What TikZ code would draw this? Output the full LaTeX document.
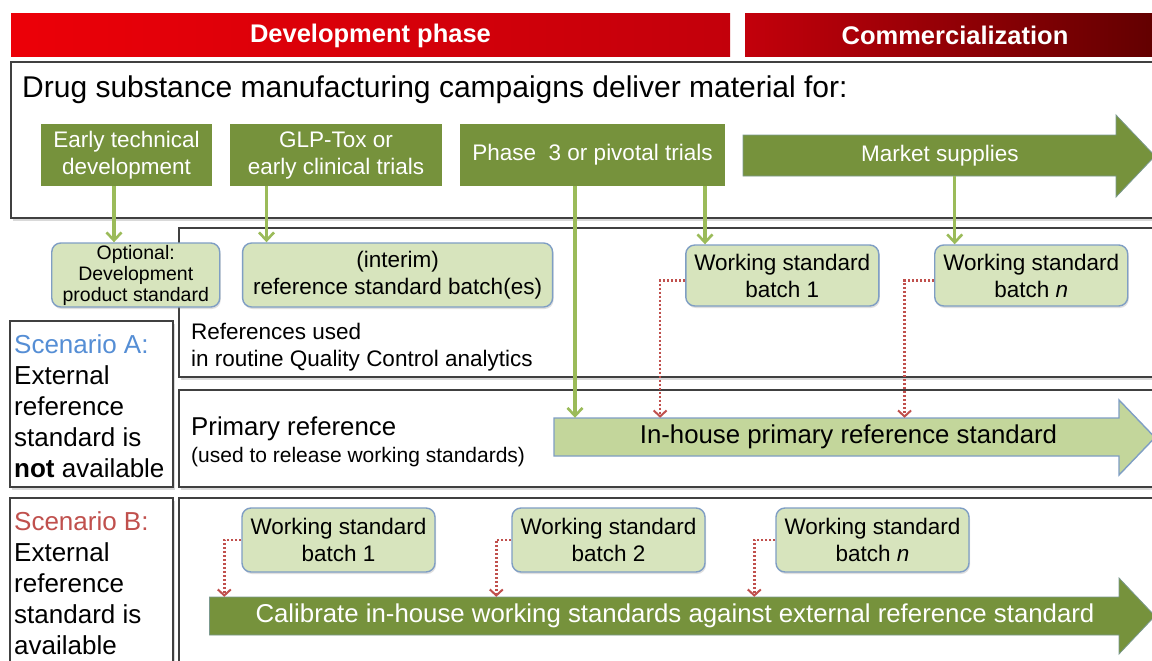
\documentclass[tikz,border=0pt]{standalone}
\usepackage{fontspec}
\setmainfont{Liberation Sans}
\usetikzlibrary{arrows.meta,shadows}

\definecolor{stagegreen}{HTML}{76923C}
\definecolor{palegreen}{HTML}{D7E4BD}
\definecolor{shaftgreen}{HTML}{C3D69B}
\definecolor{leafgreen}{HTML}{9BBB59}
\definecolor{boxedge}{HTML}{7F9EC4}
\definecolor{dotred}{HTML}{C0504D}
\definecolor{framegray}{HTML}{404040}
\definecolor{scenblue}{HTML}{558ED5}
\definecolor{scenred}{HTML}{C0504D}
\definecolor{devred}{HTML}{EC0008}
\definecolor{midred}{HTML}{C3000B}
\definecolor{darkred}{HTML}{600000}

\begin{document}
\begin{tikzpicture}[
            x = 1pt, y = -1pt,
            every node/.style={align=center, inner sep=0pt, font=\fontsize{22.5}{27}\selectfont},
            banner/.style={text=white, minimum height=43pt, font=\fontsize{25.5}{30}\selectfont\bfseries},
            panel/.style={draw=framegray, line width=1.4pt, fill=white, drop shadow={shadow xshift=1.5pt, shadow yshift=-2.5pt, opacity=0.3}},
            stage/.style={fill=stagegreen, text=white, minimum height=62pt},
            refbox/.style={draw=boxedge, fill=palegreen, line width=1.4pt, rounded corners=9pt, drop shadow={shadow xshift=1pt, shadow yshift=-2pt, opacity=0.25}},
            bigtext/.style={font=\fontsize{25.8}{31}\selectfont},
            feed/.style={draw=leafgreen, line width=3.4pt, -{Straight Barb[length=8pt, width=15pt, line width=2.6pt]}},
            release/.style={draw=dotred, line width=2.6pt, dash pattern=on 2.2pt off 1.8pt, -{Straight Barb[length=6pt, width=13pt, line width=2pt]}},
            ]

        \useasboundingbox (0,0) rectangle (1152,661);
        \clip (0,0) rectangle (1152,661);

        \node[banner, left color=devred, right color=midred, minimum width=719pt] (dev) at (370.5,35.5) {Development phase};
        \node[banner, left color=midred, right color=darkred, minimum width=420pt] (comm) at (955,35.5) {Commercialization};

        \draw[panel] (11,62) rectangle (1175,218);
        \draw[panel] (179,228) rectangle (1175,377);
        \draw[panel] (179,390) rectangle (1175,487);
        \draw[panel] (10,321) rectangle (173,487);
        \draw[panel] (179,498) rectangle (1175,675);
        \draw[panel] (10,498) rectangle (173,675);

        \node[anchor=base west, font=\fontsize{30}{36}\selectfont] (title) at (22,97) {Drug substance manufacturing campaigns deliver material for:};

        \node[stage, minimum width=171pt] (early) at (126.5,155) {Early technical\\development};
        \node[stage, minimum width=212pt] (glp) at (336,155) {GLP-Tox or\\early clinical trials};
        \node[stage, minimum width=265pt] (phase) at (592.5,155) {Phase\ \ 3 or pivotal trials};
        \filldraw[fill=stagegreen, draw=boxedge!60!stagegreen, line width=0.8pt] (743,135) -- (1116,135) -- (1116,115) -- (1155,156) -- (1116,197) -- (1116,176) -- (743,176) -- cycle;
        \node[text=white, minimum height=41pt] (market) at (940,155.5) {Market supplies};

        \node[refbox, minimum width=168pt, minimum height=64pt, font=\fontsize{19.5}{21}\selectfont] (optional) at (135.75,275) {Optional:\\Development\\product standard};
        \node[refbox, minimum width=310pt, minimum height=64pt] (interim) at (397.6,275) {(interim)\\reference standard batch(es)};
        \node[refbox, minimum width=193pt, minimum height=61pt] (wsA1) at (782.3,275.5) {Working standard\\batch 1};
        \node[refbox, minimum width=193pt, minimum height=61pt] (wsAn) at (1031.25,275.5) {Working standard\\batch \textit{n}};

        \node[anchor=west, align=left] (routine) at (191,347) {References used\\in routine Quality Control analytics};

        \node[anchor=west, align=left, font=\fontsize{26}{31}\selectfont] (scenA) at (14,406) {\textcolor{scenblue}{Scenario A:}\\External\\reference\\standard is\\\textbf{not} available};
        \node[anchor=base west, bigtext] (primary) at (191,435) {Primary reference};
        \node[anchor=base west, font=\fontsize{21}{25}\selectfont] (usage) at (191,462) {(used to release working standards)};

        \filldraw[fill=shaftgreen, draw=boxedge, line width=1.4pt] (554,418) -- (1119,418) -- (1119,400) -- (1155,437.5) -- (1119,475) -- (1119,456) -- (554,456) -- cycle;
        \node[bigtext, minimum height=38pt] (inhouse) at (848.5,437) {In-house primary reference standard};

        \node[anchor=west, align=left, font=\fontsize{26}{31}\selectfont] (scenB) at (14,583) {\textcolor{scenred}{Scenario B:}\\External\\reference\\standard is\\available};
        \node[refbox, minimum width=193pt, minimum height=64pt] (wsB1) at (338.5,540) {Working standard\\batch 1};
        \node[refbox, minimum width=193pt, minimum height=64pt] (wsB2) at (608.5,540) {Working standard\\batch 2};
        \node[refbox, minimum width=193pt, minimum height=64pt] (wsBn) at (872.5,540) {Working standard\\batch \textit{n}};

        \filldraw[fill=stagegreen, draw=boxedge!60!stagegreen, line width=0.8pt] (209.5,597) -- (1119,597) -- (1119,578) -- (1155,616) -- (1119,654) -- (1119,635) -- (209.5,635) -- cycle;
        \node[bigtext, text=white, minimum height=38pt] (calibrate) at (675,616) {Calibrate in-house working standards against external reference standard};

        \draw[feed] ([xshift=-12.5pt]early.south) -- ([xshift=-12.5pt]early.south |- optional.north);
        \draw[feed] ([xshift=-69.5pt]glp.south) -- ([xshift=-69.5pt]glp.south |- interim.north);
        \draw[feed] ([xshift=-17.5pt]phase.south) -- ([xshift=-17.5pt]phase.south |- inhouse.north);
        \draw[feed] ([xshift=112.5pt]phase.south) -- ([xshift=112.5pt]phase.south |- wsA1.north);
        \draw[feed] ([xshift=14.7pt]market.south) -- ([xshift=14.7pt]market.south |- wsAn.north);

        \draw[release] ([yshift=-5pt]wsA1.west) -| ([xshift=-25pt]wsA1.west |- inhouse.north);
        \draw[release] ([yshift=-5pt]wsAn.west) -| ([xshift=-29.5pt]wsAn.west |- inhouse.north);
        \draw[release] (wsB1.west) -| ([xshift=-17pt]wsB1.west |- calibrate.north);
        \draw[release] (wsB2.west) -| ([xshift=-15pt]wsB2.west |- calibrate.north);
        \draw[release] (wsBn.west) -| ([xshift=-21pt]wsBn.west |- calibrate.north);
    \end{tikzpicture}
\end{document}
